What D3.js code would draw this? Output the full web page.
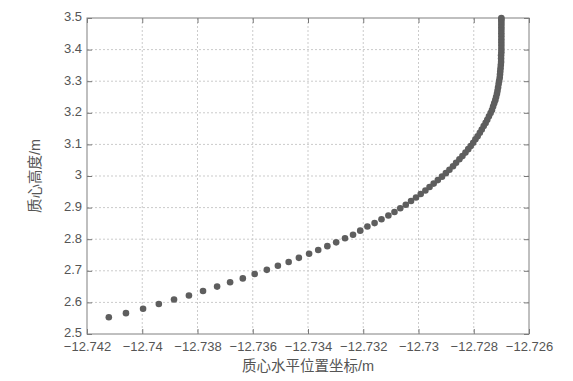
<!DOCTYPE html>
<html lang="zh">
<head>
  <meta charset="utf-8">
  <title>质心轨迹</title>
  <script src="https://d3js.org/d3.v7.min.js"></script>
  <style>
    body { margin: 0; background: #fff; }
    text { font-family: "Liberation Sans", Arial, "Noto Sans CJK SC", sans-serif; fill: #555; }
    .grid line { stroke: #cbcbcb; stroke-width: 1; stroke-dasharray: 2,2; }
  </style>
</head>
<body>
  <script>
    // 质心水平位置 (m)
    var xVals = [
      -12.74121, -12.74059, -12.73997, -12.73940, -12.73885, -12.73831, -12.73780, -12.73729,
      -12.73682, -12.73636, -12.73593, -12.73549, -12.73509, -12.73470, -12.73433, -12.73396,
      -12.73363, -12.73330, -12.73298, -12.73266, -12.73237, -12.73211, -12.73185, -12.73159,
      -12.73134, -12.73109, -12.73087, -12.73066, -12.73046, -12.73027, -12.73009, -12.72992,
      -12.72975, -12.72960, -12.72945, -12.72930, -12.72915, -12.72901, -12.72888, -12.72875,
      -12.72864, -12.72852, -12.72841, -12.72830, -12.72820, -12.72811, -12.72802, -12.72794,
      -12.72786, -12.72778, -12.72771, -12.72764, -12.72757, -12.72751, -12.72745, -12.72739,
      -12.72734, -12.72730, -12.72726, -12.72722, -12.72719, -12.72716, -12.72714, -12.72712,
      -12.72710, -12.72708, -12.72706, -12.72705, -12.72704, -12.72703, -12.72702, -12.72701,
      -12.72701, -12.72701, -12.72700, -12.72700, -12.72700, -12.72700, -12.72700, -12.72700,
      -12.72700, -12.72700, -12.72700, -12.72700, -12.72700, -12.72700, -12.72700
    ];
    // 质心高度 (m)
    var yVals = [
      2.553, 2.566, 2.580, 2.595, 2.609, 2.622, 2.636, 2.650,
      2.664, 2.676, 2.690, 2.703, 2.716, 2.728, 2.741, 2.754,
      2.766, 2.778, 2.790, 2.803, 2.814, 2.827, 2.840, 2.851,
      2.863, 2.875, 2.886, 2.898, 2.909, 2.921, 2.932, 2.943,
      2.954, 2.965, 2.976, 2.987, 2.998, 3.009, 3.020, 3.031,
      3.042, 3.053, 3.063, 3.074, 3.085, 3.095, 3.105, 3.116,
      3.126, 3.137, 3.147, 3.158, 3.168, 3.178, 3.189, 3.199,
      3.209, 3.220, 3.230, 3.240, 3.250, 3.260, 3.270, 3.280,
      3.291, 3.301, 3.311, 3.321, 3.331, 3.341, 3.351, 3.361,
      3.372, 3.382, 3.392, 3.402, 3.412, 3.422, 3.432, 3.442,
      3.452, 3.462, 3.471, 3.480, 3.488, 3.495, 3.500
    ];
    var xTicks = [-12.742, -12.74, -12.738, -12.736, -12.734, -12.732, -12.73, -12.728, -12.726];
    var yTicks = [2.5, 2.6, 2.7, 2.8, 2.9, 3, 3.1, 3.2, 3.3, 3.4, 3.5];

    var W = 573, H = 381;
    var margin = { top: 18, right: 44, bottom: 47, left: 87 };
    var innerW = W - margin.left - margin.right;
    var innerH = H - margin.top - margin.bottom;

    var svg = d3.select('body').append('svg')
      .attr('width', W)
      .attr('height', H);
    var g = svg.append('g')
      .attr('transform', 'translate(' + [margin.left, margin.top] + ')');

    var x = d3.scaleLinear().domain([-12.742, -12.726]).range([0, innerW]);
    var y = d3.scaleLinear().domain([2.5, 3.5]).range([innerH, 0]);

    var fmt = function(d) { return String(+d.toFixed(3)).replace('-', '\u2212'); };

    // 网格
    g.append('g').attr('class', 'grid')
      .selectAll('line').data(xTicks.slice(1, -1)).enter().append('line')
      .attr('x1', function(d){ return x(d); }).attr('x2', function(d){ return x(d); })
      .attr('y1', 0).attr('y2', innerH);
    g.append('g').attr('class', 'grid')
      .selectAll('line').data(yTicks.slice(1, -1)).enter().append('line')
      .attr('x1', 0).attr('x2', innerW)
      .attr('y1', function(d){ return y(d); }).attr('y2', function(d){ return y(d); });

    // 坐标轴 (刻度向内)
    function styleAxis(sel) {
      sel.select('.domain').remove();
      sel.selectAll('.tick line').attr('stroke', '#777');
      sel.selectAll('.tick text').style('font-size', '13px').attr('fill', '#555');
    }
    g.append('g').attr('transform', 'translate(0,' + innerH + ')')
      .call(d3.axisBottom(x).tickValues(xTicks).tickSizeInner(-5).tickSizeOuter(0).tickPadding(8).tickFormat(fmt))
      .call(styleAxis);
    g.append('g')
      .call(d3.axisTop(x).tickValues(xTicks).tickSizeInner(-5).tickSizeOuter(0).tickFormat(''))
      .call(styleAxis);
    g.append('g')
      .call(d3.axisLeft(y).tickValues(yTicks).tickSizeInner(-5).tickSizeOuter(0).tickPadding(5).tickFormat(d3.format('')))
      .call(styleAxis)
      .selectAll('.tick text').attr('dy', '0.22em');
    g.append('g').attr('transform', 'translate(' + innerW + ',0)')
      .call(d3.axisRight(y).tickValues(yTicks).tickSizeInner(-5).tickSizeOuter(0).tickFormat(''))
      .call(styleAxis);

    g.append('rect')
      .attr('width', innerW).attr('height', innerH)
      .attr('fill', 'none').attr('stroke', '#808080').attr('stroke-width', 1);

    // 数据点
    var pts = xVals.map(function(v, i){ return { x: v, y: yVals[i] }; });
    g.selectAll('.pt').data(pts).enter().append('circle')
      .attr('class', 'pt')
      .attr('cx', function(d){ return x(d.x); })
      .attr('cy', function(d){ return y(d.y); })
      .attr('r', 3.3)
      .attr('fill', '#5e5e5e');

    // 轴标题
    svg.append('text')
      .attr('x', margin.left + innerW / 2).attr('y', 371)
      .attr('text-anchor', 'middle')
      .style('font-size', '14.5px')
      .text('质心水平位置坐标/m');
    svg.append('text')
      .attr('transform', 'translate(40,' + (margin.top + innerH / 2) + ') rotate(-90)')
      .attr('text-anchor', 'middle')
      .style('font-size', '14.5px')
      .text('质心高度/m');
  </script>
</body>
</html>
